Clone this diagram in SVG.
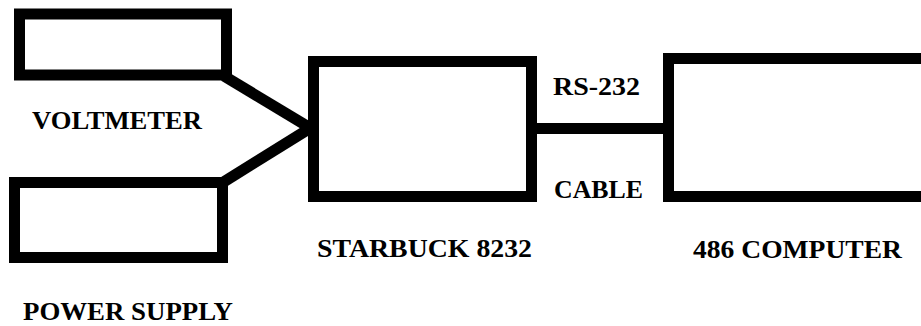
<svg xmlns="http://www.w3.org/2000/svg" width="921" height="326" viewBox="0 0 921 326">
<style>
.box{fill:none;stroke:#000;stroke-width:11}
.con{fill:none;stroke:#000;stroke-width:11;stroke-linecap:butt}
.lbl{font-family:"Liberation Serif","Times New Roman",serif;font-weight:bold;font-size:26px;fill:#000}
</style>
<rect width="921" height="326" fill="#fff"/>
<g id="voltmeter">
<rect class="box" x="19.5" y="14" width="207" height="61"/>
<text class="lbl" x="32" y="129" textLength="170" lengthAdjust="spacingAndGlyphs">VOLTMETER</text>
</g>
<g id="power-supply">
<rect class="box" x="14.5" y="182.5" width="208" height="75"/>
<text class="lbl" x="23" y="320" textLength="210" lengthAdjust="spacingAndGlyphs">POWER SUPPLY</text>
</g>
<g id="starbuck">
<rect class="box" x="313.5" y="61.5" width="218" height="135"/>
<text class="lbl" x="317" y="257" textLength="215" lengthAdjust="spacingAndGlyphs">STARBUCK 8232</text>
</g>
<g id="computer">
<rect class="box" x="668.5" y="58.5" width="300" height="138"/>
<text class="lbl" x="693" y="258" textLength="209" lengthAdjust="spacingAndGlyphs">486 COMPUTER</text>
</g>
<g id="connectors">
<line class="con" x1="224" y1="76" x2="312" y2="129"/>
<line class="con" x1="222" y1="183" x2="312" y2="127"/>
<line class="con" x1="532" y1="128.5" x2="668" y2="128.5"/>
<text class="lbl" x="553" y="95" textLength="87" lengthAdjust="spacingAndGlyphs">RS-232</text>
<text class="lbl" x="554" y="198" textLength="89" lengthAdjust="spacingAndGlyphs">CABLE</text>
</g>
</svg>
